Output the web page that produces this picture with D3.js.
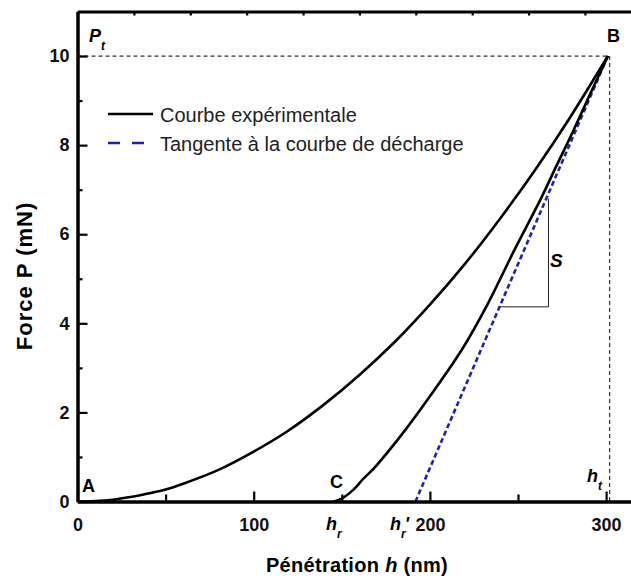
<!DOCTYPE html>
<html>
<head>
<meta charset="utf-8">
<script src="https://cdn.jsdelivr.net/npm/d3@7"></script>
<style>
  body { margin: 0; background: #fff; }
  svg { display: block; font-family: "Liberation Sans", Arial, sans-serif; }
  .axis text { font-size: 18px; font-weight: bold; fill: #111; }
</style>
</head>
<body>
<div id="chart"></div>
<script>
// Loading curve (A -> B)
const loadH = [0, 10, 20, 30, 40, 50, 60, 80, 100, 120, 140, 160, 180, 200, 220, 240, 260, 280, 301];
const loadP = [0, 0.01, 0.04, 0.10, 0.18, 0.27, 0.40, 0.71, 1.12, 1.60, 2.18, 2.84, 3.58, 4.42, 5.34, 6.36, 7.46, 8.65, 10];

// Unloading curve (B -> C)
const unloadH = [301, 291, 281, 272, 263, 248, 233, 218, 198, 183, 169, 162, 156.5, 151, 147, 145];
const unloadP = [10, 9.15, 8.29, 7.55, 6.8, 5.65, 4.45, 3.4, 2.25, 1.45, 0.78, 0.5, 0.26, 0.09, 0.02, 0];

// Tangent to the unloading curve (h_r' -> B)
const tangentH = [191.8, 301];
const tangentP = [0, 10];

// Slope triangle S
const slopeH = [240, 267.3, 267.3];
const slopeP = [4.37, 4.37, 6.8];

// Max point
const hMax = 301;
const pMax = 10;

// Ticks
const xMajorTicks = [0, 100, 200, 300];
const xMinorTicks = [50, 150, 250];
const yMajorTicks = [0, 2, 4, 6, 8, 10];
const yMinorTicks = [1, 3, 5, 7, 9];
const topTicks = [0, 32, 64, 96, 128, 160, 192, 224, 256, 288];

const legendLabels = ["Courbe expérimentale", "Tangente à la courbe de décharge"];

const width = 631;
const height = 580;

const svg = d3.select('#chart')
  .append('svg')
  .attr('width', width)
  .attr('height', height);

// scales
const xScale = d3.scaleLinear()
  .domain([0, 316])
  .range([77.5, 77.5 + 316 * 1.762]);

const yScale = d3.scaleLinear()
  .domain([0, 11])
  .range([501.5, 11.5]);

const toPts = (hs, ps) => hs.map((h, i) => [h, ps[i]]);

const line = d3.line()
  .x(d => xScale(d[0]))
  .y(d => yScale(d[1]));

const smooth = d3.line()
  .x(d => xScale(d[0]))
  .y(d => yScale(d[1]))
  .curve(d3.curveCatmullRom.alpha(0.5));

// dashed guides to B
svg.append('path')
  .attr('d', line([[0, pMax], [hMax, pMax]]))
  .attr('fill', 'none')
  .attr('stroke', '#333')
  .attr('stroke-width', 1.2)
  .attr('stroke-dasharray', '4,3');

svg.append('path')
  .attr('d', line([[hMax + 1, pMax], [hMax + 1, 0]]))
  .attr('fill', 'none')
  .attr('stroke', '#333')
  .attr('stroke-width', 1.2)
  .attr('stroke-dasharray', '4,3');

// slope triangle
svg.append('path')
  .attr('d', line(toPts(slopeH, slopeP)))
  .attr('fill', 'none')
  .attr('stroke', '#222')
  .attr('stroke-width', 1);

// tangent
svg.append('path')
  .attr('d', line(toPts(tangentH, tangentP)))
  .attr('fill', 'none')
  .attr('stroke', '#1f1fb0')
  .attr('stroke-width', 2.6)
  .attr('stroke-dasharray', '5,3');

// experimental curves
svg.append('path')
  .attr('d', smooth(toPts(loadH, loadP)))
  .attr('fill', 'none')
  .attr('stroke', '#000')
  .attr('stroke-width', 2.6);

svg.append('path')
  .attr('d', smooth(toPts(unloadH, unloadP).reverse()))
  .attr('fill', 'none')
  .attr('stroke', '#000')
  .attr('stroke-width', 2.6);

// Axes (ticks pointing inward)
svg.append('g')
  .attr('class', 'axis')
  .attr('transform', `translate(0, ${yScale(0)})`)
  .call(d3.axisBottom(xScale).tickValues(xMajorTicks).tickSize(-10).tickSizeOuter(0).tickPadding(17));

svg.append('g')
  .attr('class', 'axis')
  .attr('transform', `translate(0, ${yScale(0)})`)
  .call(d3.axisBottom(xScale).tickValues(xMinorTicks).tickSize(-7).tickSizeOuter(0).tickFormat(''));

svg.append('g')
  .attr('class', 'axis')
  .attr('transform', `translate(${xScale(0)}, 0)`)
  .call(d3.axisLeft(yScale).tickValues(yMajorTicks).tickSize(-10).tickSizeOuter(0).tickPadding(8));

svg.append('g')
  .attr('class', 'axis')
  .attr('transform', `translate(${xScale(0)}, 0)`)
  .call(d3.axisLeft(yScale).tickValues(yMinorTicks).tickSize(-5).tickSizeOuter(0).tickFormat(''));

svg.append('g')
  .attr('class', 'axis')
  .attr('transform', `translate(0, ${yScale(11)})`)
  .call(d3.axisTop(xScale).tickValues(topTicks).tickSize(-4).tickSizeOuter(0).tickFormat(''));

svg.selectAll('.axis path.domain')
  .attr('stroke', '#000')
  .attr('stroke-width', 3);
svg.selectAll('.axis .tick line')
  .attr('stroke', '#000')
  .attr('stroke-width', 2.2);

// axis titles
svg.append('text')
  .attr('transform', 'rotate(-90)')
  .attr('x', -276)
  .attr('y', 32)
  .attr('text-anchor', 'middle')
  .style('font-size', '22px')
  .style('font-weight', 'bold')
  .style('letter-spacing', '1px')
  .text('Force P (mN)');

const xTitle = svg.append('text')
  .attr('x', 357)
  .attr('y', 572)
  .attr('text-anchor', 'middle')
  .style('font-size', '20px')
  .style('font-weight', 'bold')
  .style('letter-spacing', '0.3px');
xTitle.append('tspan').text('Pénétration ');
xTitle.append('tspan').style('font-style', 'italic').text('h');
xTitle.append('tspan').text(' (nm)');

// point labels
const label = (x, y, txt, italic, size) => svg.append('text')
  .attr('x', x)
  .attr('y', y)
  .style('font-size', (size || 18) + 'px')
  .style('font-weight', 'bold')
  .style('font-style', italic ? 'italic' : 'normal')
  .text(txt);

label(82, 492, 'A');
label(607, 42, 'B');
label(330, 488, 'C');
label(550, 267, 'S', true, 19);

// italic symbol with a subscript (and optional prime) in one text
const subLabel = (x, y, main, sub, prime) => {
  const t = svg.append('text')
    .attr('x', x)
    .attr('y', y)
    .style('font-size', '18px')
    .style('font-weight', 'bold')
    .style('font-style', 'italic');
  t.append('tspan').text(main);
  t.append('tspan').attr('dy', 8).style('font-size', '12px').text(sub);
  if (prime) t.append('tspan').attr('dy', -8).attr('dx', -1).text(prime);
  return t;
};

subLabel(89, 42, 'P', 't');
subLabel(587, 482, 'h', 't');
subLabel(326, 530, 'h', 'r');
subLabel(390, 530, 'h', 'r', "'");

// legend
const legend = svg.append('g');

legend.append('line')
  .attr('x1', 108).attr('x2', 153)
  .attr('y1', 114).attr('y2', 114)
  .attr('stroke', '#000')
  .attr('stroke-width', 2.6);

legend.append('line')
  .attr('x1', 108).attr('x2', 148)
  .attr('y1', 143).attr('y2', 143)
  .attr('stroke', '#1f1fb0')
  .attr('stroke-width', 2.6)
  .attr('stroke-dasharray', '12,12');

legend.selectAll('text.leg')
  .data(legendLabels)
  .enter()
  .append('text')
  .attr('class', 'leg')
  .attr('x', 160)
  .attr('y', (d, i) => 122 + i * 29)
  .style('font-size', '20px')
  .style('fill', '#222')
  .text(d => d);
</script>
</body>
</html>
